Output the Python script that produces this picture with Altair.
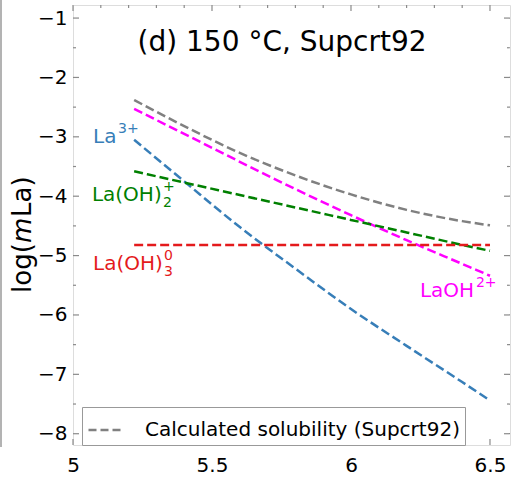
import altair as alt
import pandas as pd

# ---- data ----
x_vals = [5.22, 5.4, 5.6, 5.8, 6.0, 6.2, 6.4, 6.5]
calc_vals = [-2.38, -2.82, -3.27, -3.65, -3.97, -4.23, -4.42, -4.49]   # grey, calculated solubility
la3_vals = [-3.05, -3.75, -4.52, -5.22, -5.90, -6.52, -7.13, -7.44]     # La3+
laoh_vals = [-2.53, -2.95, -3.42, -3.88, -4.32, -4.74, -5.14, -5.34]    # LaOH2+
laoh2_vals = [-3.58, -3.77, -3.98, -4.19, -4.40, -4.61, -4.82, -4.92]   # La(OH)2+
laoh3_vals = [-4.82, -4.82, -4.82, -4.82, -4.82, -4.82, -4.82, -4.82]   # La(OH)3 0

species = ["La3+", "LaOH2+", "La(OH)2+", "La(OH)3"]
species_colors = ["#377eb8", "#ff00ff", "#008000", "#e41a1c"]
legend_label = "Calculated solubility (Supcrt92)"

x_major = [5, 5.5, 6, 6.5]
x_minor = [5.1, 5.2, 5.3, 5.4, 5.6, 5.7, 5.8, 5.9, 6.1, 6.2, 6.3, 6.4, 6.6]
y_major = [-1, -2, -3, -4, -5, -6, -7, -8]
y_minor = [-1.5, -2.5, -3.5, -4.5, -5.5, -6.5, -7.5]

X_DOMAIN = [5, 6.572]
Y_DOMAIN = [-8.19, -0.78]
W, H = 437, 440
FONT = "DejaVu Sans"
FRAME = "#8a8a8a"

rows = []
for name, vals in zip(species, [la3_vals, laoh_vals, laoh2_vals, laoh3_vals]):
    for xv, yv in zip(x_vals, vals):
        rows.append({"species": name, "x": xv, "y": yv})
df_species = pd.DataFrame(rows)
df_calc = pd.DataFrame({"series": legend_label, "x": x_vals, "y": calc_vals})

xs = alt.Scale(domain=X_DOMAIN, nice=False, zero=False)
ys = alt.Scale(domain=Y_DOMAIN, nice=False, zero=False)

dash = [9, 4]

lines = alt.Chart(df_species).mark_line(strokeWidth=2.5, strokeDash=dash, interpolate="monotone").encode(
    x=alt.X("x:Q", scale=xs, axis=alt.Axis(values=x_major, ticks=False, domain=False, grid=False,
                                            labelFontSize=20, labelFont=FONT, labelColor="black",
                                            labelPadding=10, title=None, labelFlush=False,
                                            labelExpr="datum.value == 5 || datum.value == 6 ? format(datum.value, 'd') : format(datum.value, '.1f')")),
    y=alt.Y("y:Q", scale=ys, axis=alt.Axis(values=y_major, ticks=False, domain=False, grid=False,
                                            labelFontSize=20, labelFont=FONT, labelColor="black",
                                            labelPadding=6, title=None, labelFlush=False, format="d")),
    color=alt.Color("species:N", scale=alt.Scale(domain=species, range=species_colors), legend=None),
    detail="species:N",
)

calc = alt.Chart(df_calc).mark_line(strokeWidth=2.5, strokeDash=dash, interpolate="monotone").encode(
    x=alt.X("x:Q", scale=xs),
    y=alt.Y("y:Q", scale=ys),
    color=alt.Color("series:N", scale=alt.Scale(domain=[legend_label], range=["#808080"]),
                    legend=alt.Legend(title=None, orient="none", legendX=9, legendY=402,
                                      symbolType="stroke", symbolSize=1089, symbolStrokeWidth=2.5,
                                      symbolDash=[8, 4], labelFontSize=20, labelFont=FONT,
                                      labelColor="black", labelOffset=22, padding=5, labelLimit=0,
                                      strokeColor="#999999", fillColor="white", cornerRadius=0)),
)

# ---- inward ticks on all four sides ----
def xticks(vals, length, top):
    d = pd.DataFrame({"v": vals})
    y1 = 0 if top else H
    y2 = length if top else H - length
    return alt.Chart(d).mark_rule(color=FRAME, strokeWidth=1.2).encode(
        x=alt.X("v:Q", scale=xs), y=alt.value(y1), y2=alt.value(y2))

def yticks(vals, length, right):
    d = pd.DataFrame({"v": vals})
    x1 = W if right else 0
    x2 = W - length if right else length
    return alt.Chart(d).mark_rule(color=FRAME, strokeWidth=1.2).encode(
        y=alt.Y("v:Q", scale=ys), x=alt.value(x1), x2=alt.value(x2))

ticks = [xticks(x_major, 6, False), xticks(x_major, 6, True),
         xticks(x_minor, 3, False), xticks(x_minor, 3, True),
         yticks(y_major, 6, False), yticks(y_major, 6, True),
         yticks(y_minor, 3, False), yticks(y_minor, 3, True)]

# ---- text annotations ----
title_df = pd.DataFrame({"t": ["(d) 150 °C, Supcrt92"], "x": [5.752], "y": [-1.42]})
title = alt.Chart(title_df).mark_text(fontSize=28, font=FONT, align="center", baseline="middle",
                                      color="black").encode(
    x=alt.X("x:Q", scale=xs), y=alt.Y("y:Q", scale=ys), text="t:N")

lab_main = ["La", "La(OH)", "La(OH)", "LaOH"]
lab_x = [5.072, 5.068, 5.072, 6.248]
lab_y = [-3.00, -3.98, -5.14, -5.60]
lab_sup = ["3+", "+", "0", "2+"]
lab_sub = ["", "2", "3", ""]
lab_off = [24, 70, 70, 55]
lab_colors = ["#377eb8", "#008000", "#e41a1c", "#ff00ff"]

text_layers = []
for i in range(4):
    d = pd.DataFrame({"t": [lab_main[i]], "x": [lab_x[i]], "y": [lab_y[i]]})
    text_layers.append(alt.Chart(d).mark_text(fontSize=20, font=FONT, align="left", baseline="middle",
                                              color=lab_colors[i]).encode(
        x=alt.X("x:Q", scale=xs), y=alt.Y("y:Q", scale=ys), text="t:N"))
    d2 = pd.DataFrame({"t": [lab_sup[i]], "x": [lab_x[i]], "y": [lab_y[i]]})
    text_layers.append(alt.Chart(d2).mark_text(fontSize=14, font=FONT, align="left", baseline="middle",
                                               color=lab_colors[i], dx=lab_off[i] + 1, dy=-8).encode(
        x=alt.X("x:Q", scale=xs), y=alt.Y("y:Q", scale=ys), text="t:N"))
    if lab_sub[i]:
        d3 = pd.DataFrame({"t": [lab_sub[i]], "x": [lab_x[i]], "y": [lab_y[i]]})
        text_layers.append(alt.Chart(d3).mark_text(fontSize=14, font=FONT, align="left", baseline="middle",
                                                   color=lab_colors[i], dx=lab_off[i] + 1, dy=8).encode(
            x=alt.X("x:Q", scale=xs), y=alt.Y("y:Q", scale=ys), text="t:N"))

# ---- y-axis title: log(mLa) with italic m ----
yt_parts = ["log(", "m", "La)"]
yt_style = ["normal", "italic", "normal"]
yt_dx = [0, 50, 76]
for part, sty, dxv in zip(yt_parts, yt_style, yt_dx):
    d = pd.DataFrame({"t": [part]})
    text_layers.append(alt.Chart(d).mark_text(fontSize=26, font=FONT, fontStyle=sty, align="left",
                                              baseline="middle", angle=270, color="black", dx=dxv).encode(
        x=alt.value(-50), y=alt.value(288), text="t:N"))

# left border line seen in the picture
edge = alt.Chart(pd.DataFrame({"a": [0]})).mark_rule(color="#9a9a9a", strokeWidth=1.5).encode(
    x=alt.value(-72), y=alt.value(-5), y2=alt.value(442))

chart = alt.layer(lines, calc, *ticks, title, *text_layers, edge).resolve_scale(
    color="independent"
).properties(
    width=W, height=H,
    autosize=alt.AutoSizeParams(type="none"),
    padding={"left": 73, "top": 5, "right": 3, "bottom": 32},
).configure_view(stroke=FRAME, strokeWidth=1.5).configure(background="white")

chart.save("out.html", embed_options={"renderer": "svg", "actions": False})
